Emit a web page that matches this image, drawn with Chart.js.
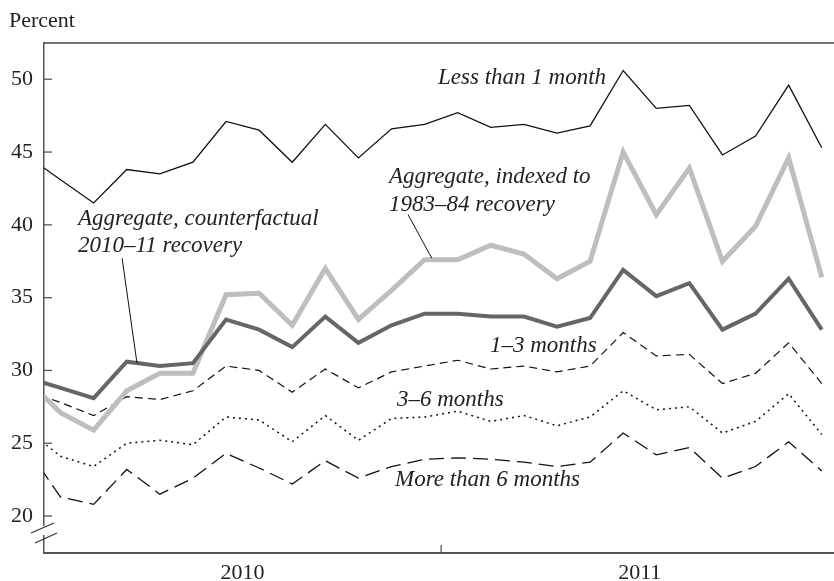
<!DOCTYPE html>
<html>
<head>
<meta charset="utf-8">
<script src="https://cdn.jsdelivr.net/npm/chart.js@4.4.1/dist/chart.umd.min.js"></script>
<style>
  html, body { margin: 0; padding: 0; background: #fff; }
  #chart { display: block; }
</style>
</head>
<body>
<canvas id="chart" width="834" height="581"></canvas>
<script>
// Months from Dec 2009 to Dec 2011 (Dec 2009 only feeds the clipped first segment)
const months = ['Dec 2009',
  'Jan 2010', 'Feb 2010', 'Mar 2010', 'Apr 2010', 'May 2010', 'Jun 2010',
  'Jul 2010', 'Aug 2010', 'Sep 2010', 'Oct 2010', 'Nov 2010', 'Dec 2010',
  'Jan 2011', 'Feb 2011', 'Mar 2011', 'Apr 2011', 'May 2011', 'Jun 2011',
  'Jul 2011', 'Aug 2011', 'Sep 2011', 'Oct 2011', 'Nov 2011', 'Dec 2011'];
const yearLabels = ['2010', '2011'];
const yTicks = [20, 25, 30, 35, 40, 45, 50];

const lessThan1 = [44.7, 43.1, 41.5, 43.8, 43.5, 44.3, 47.1, 46.5, 44.3, 46.9, 44.6, 46.6, 46.9,
  47.7, 46.7, 46.9, 46.3, 46.8, 50.6, 48.0, 48.2, 44.8, 46.1, 49.6, 45.3];
const indexed8384 = [29.3, 27.1, 25.9, 28.6, 29.8, 29.8, 35.2, 35.3, 33.1, 37.0, 33.5, 35.5, 37.6,
  37.6, 38.6, 38.0, 36.3, 37.5, 45.0, 40.7, 43.9, 37.5, 39.9, 44.6, 36.4];
const counterfactual = [29.5, 28.8, 28.1, 30.6, 30.3, 30.5, 33.5, 32.8, 31.6, 33.7, 31.9, 33.1, 33.9,
  33.9, 33.7, 33.7, 33.0, 33.6, 36.9, 35.1, 36.0, 32.8, 33.9, 36.3, 32.8];
const months1to3 = [28.6, 27.8, 26.9, 28.2, 28.0, 28.6, 30.3, 30.0, 28.5, 30.1, 28.8, 29.9, 30.3,
  30.7, 30.1, 30.3, 29.9, 30.3, 32.6, 31.0, 31.1, 29.1, 29.8, 31.9, 29.1];
const months3to6 = [25.9, 24.1, 23.4, 25.0, 25.2, 24.9, 26.8, 26.6, 25.1, 26.9, 25.2, 26.7, 26.8,
  27.2, 26.5, 26.9, 26.2, 26.8, 28.6, 27.3, 27.5, 25.7, 26.5, 28.4, 25.6];
const moreThan6 = [24.6, 21.3, 20.8, 23.2, 21.5, 22.6, 24.3, 23.3, 22.2, 23.8, 22.6, 23.4, 23.9,
  24.0, 23.9, 23.7, 23.4, 23.7, 25.7, 24.2, 24.7, 22.6, 23.4, 25.1, 23.1];

// month i of the list sits at the middle of its month, Jan 2010 starts at x = 0
function toPoints(values) {
  return values.map((v, i) => ({ x: i - 0.5, y: v }));
}

const serif = 'Liberation Serif, Times New Roman, serif';

const decor = {
  id: 'decor',
  afterDraw(chart) {
    const { ctx, chartArea: a, scales: { x, y } } = chart;
    ctx.save();
    // top frame line
    ctx.strokeStyle = '#444';
    ctx.lineWidth = 1.5;
    ctx.beginPath();
    ctx.moveTo(a.left, a.top);
    ctx.lineTo(a.right, a.top);
    ctx.stroke();
    // inside tick marks
    ctx.strokeStyle = '#555';
    ctx.lineWidth = 1.3;
    yTicks.forEach(v => {
      const py = y.getPixelForValue(v);
      ctx.beginPath();
      ctx.moveTo(a.left, py);
      ctx.lineTo(a.left + 8, py);
      ctx.stroke();
    });
    const px = x.getPixelForValue(12);
    ctx.beginPath();
    ctx.moveTo(px, a.bottom);
    ctx.lineTo(px, a.bottom - 8);
    ctx.stroke();
    // axis break
    const b = y.getPixelForValue(20);
    ctx.fillStyle = '#fff';
    ctx.fillRect(a.left - 2, b + 10, 4, 9);
    ctx.strokeStyle = '#333';
    ctx.lineWidth = 1.3;
    ctx.beginPath();
    ctx.moveTo(a.left - 13, b + 17);
    ctx.lineTo(a.left + 10, b + 7);
    ctx.moveTo(a.left - 9, b + 27);
    ctx.lineTo(a.left + 13, b + 17);
    ctx.stroke();
    // "Percent"
    ctx.fillStyle = '#222';
    ctx.font = '22px ' + serif;
    ctx.textBaseline = 'alphabetic';
    ctx.fillText('Percent', 9, 27);
    // series labels
    ctx.font = 'italic 23px ' + serif;
    ctx.fillText('Less than 1 month', 438, 84);
    ctx.fillText('Aggregate, indexed to', 389, 183);
    ctx.fillText('1983\u201384 recovery', 389, 211);
    ctx.fillText('Aggregate, counterfactual', 78, 225);
    ctx.fillText('2010\u201311 recovery', 78, 252);
    ctx.fillText('1\u20133 months', 490, 352);
    ctx.fillText('3\u20136 months', 397, 406);
    ctx.fillText('More than 6 months', 395, 486);
    // leader lines
    ctx.strokeStyle = '#111';
    ctx.lineWidth = 1;
    ctx.beginPath();
    ctx.moveTo(x.getPixelForValue(2.36), y.getPixelForValue(37.7));
    ctx.lineTo(x.getPixelForValue(2.81), y.getPixelForValue(30.5));
    ctx.moveTo(x.getPixelForValue(11.0), y.getPixelForValue(40.7));
    ctx.lineTo(x.getPixelForValue(11.72), y.getPixelForValue(37.7));
    ctx.stroke();
    ctx.restore();
  }
};

function line(label, values, color, width, dash, order) {
  return {
    label: label,
    data: toPoints(values),
    borderColor: color,
    borderWidth: width,
    borderDash: dash,
    borderCapStyle: 'butt',
    borderJoinStyle: 'miter',
    pointRadius: 0,
    tension: 0,
    fill: false,
    order: order
  };
}

new Chart(document.getElementById('chart'), {
  type: 'line',
  data: {
    labels: months,
    datasets: [
      line('Less than 1 month', lessThan1, '#111', 1.3, [], 1),
      line('Aggregate, counterfactual 2010-11 recovery', counterfactual, '#666', 4, [], 2),
      line('Aggregate, indexed to 1983-84 recovery', indexed8384, '#bebebe', 5, [], 3),
      line('1-3 months', months1to3, '#111', 1.2, [8, 5], 4),
      line('3-6 months', months3to6, '#111', 1.5, [2, 4], 5),
      line('More than 6 months', moreThan6, '#111', 1.3, [15, 7], 6)
    ]
  },
  options: {
    responsive: false,
    animation: false,
    devicePixelRatio: 1,
    layout: { padding: { top: 43, left: 0, right: 0, bottom: 0 } },
    plugins: { legend: { display: false }, tooltip: { enabled: false } },
    scales: {
      x: {
        type: 'linear',
        min: 0,
        max: 23.87,
        grid: { display: false, drawTicks: false },
        border: { display: true, color: '#555', width: 2 },
        afterBuildTicks: s => { s.ticks = [{ value: 6 }, { value: 18 }]; },
        afterFit: s => { s.height = 28; },
        ticks: {
          padding: 7,
          color: '#222',
          font: { family: serif, size: 22 },
          maxRotation: 0,
          callback: v => yearLabels[v === 6 ? 0 : 1]
        }
      },
      y: {
        min: 17.46,
        max: 52.49,
        grid: { display: false, drawTicks: false },
        border: { display: true, color: '#555', width: 1.5 },
        afterBuildTicks: s => { s.ticks = yTicks.map(v => ({ value: v })); },
        afterFit: s => { s.width = 44; },
        ticks: {
          padding: 11,
          color: '#222',
          font: { family: serif, size: 22 }
        }
      }
    }
  },
  plugins: [decor]
});
</script>
</body>
</html>
